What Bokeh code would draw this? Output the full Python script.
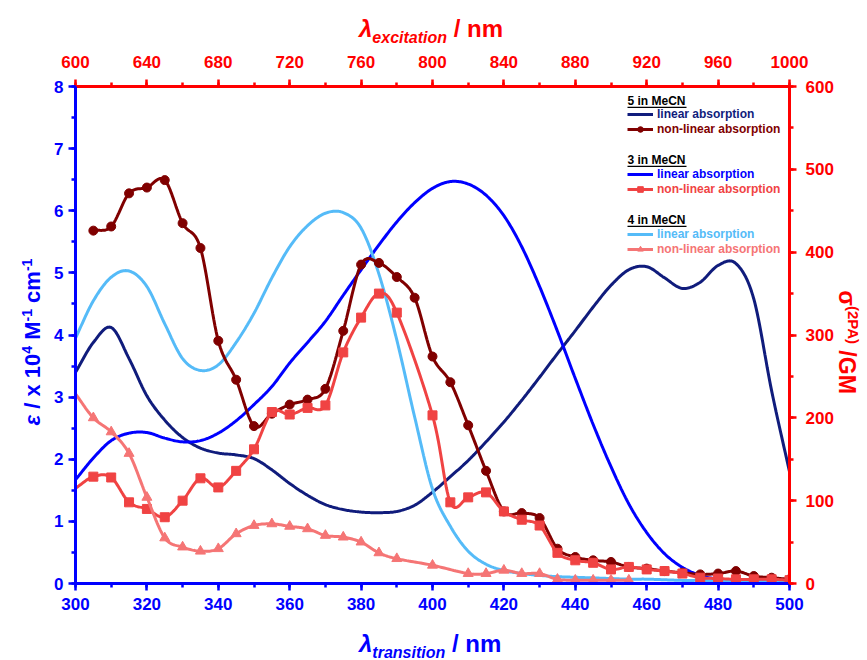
import numpy as np
from bokeh.plotting import figure
from bokeh.layouts import column, row
from bokeh.models import (Range1d, LinearAxis, SingleIntervalTicker, Label, Legend,
                          LegendItem, BoxAnnotation, Div)
from bokeh.embed import file_html
from bokeh.resources import INLINE

# ---------------- data ----------------
wl_lin = list(range(300, 505, 5))
eps_5 = [3.40, 3.88, 4.12, 3.62, 3.02, 2.63, 2.35, 2.18, 2.10, 2.07, 2.01, 1.83, 1.61, 1.42,
         1.27, 1.19, 1.15, 1.14, 1.16, 1.26, 1.47, 1.72, 1.98, 2.28, 2.60, 2.95, 3.32, 3.70,
         4.07, 4.45, 4.80, 5.05, 5.10, 4.92, 4.75, 4.85, 5.12, 5.15, 4.58, 3.10, 1.80]
eps_3 = [1.67, 2.02, 2.30, 2.42, 2.43, 2.34, 2.28, 2.30, 2.42, 2.62, 2.88, 3.17, 3.55, 3.88,
         4.22, 4.64, 5.05, 5.45, 5.82, 6.13, 6.36, 6.47, 6.43, 6.25, 5.92, 5.42, 4.78, 4.06,
         3.30, 2.56, 1.88, 1.28, 0.82, 0.48, 0.26, 0.13, 0.07, 0.04, 0.03, 0.02, 0.02]
eps_4 = [3.95, 4.55, 4.93, 5.03, 4.78, 4.18, 3.62, 3.43, 3.52, 3.88, 4.35, 4.92, 5.42, 5.76,
         5.96, 5.97, 5.72, 4.98, 3.92, 2.68, 1.52, 0.92, 0.52, 0.31, 0.21, 0.16, 0.13, 0.11,
         0.10, 0.09, 0.08, 0.07, 0.07, 0.06, 0.05, 0.05, 0.04, 0.04, 0.03, 0.03, 0.02]

wl_5 = list(range(305, 505, 5))
gm_5 = [426, 431, 471, 478, 487, 435, 405, 293, 246, 190, 205, 216, 222, 235, 305, 385, 387,
        370, 345, 274, 243, 191, 136, 87, 85, 79, 42, 32, 28, 26, 20, 18, 15, 13, 11, 12, 15,
        9, 7, 5]

wl_3 = list(range(300, 395, 5)) + list(range(400, 505, 5))
gm_3 = [115, 129, 128, 98, 90, 80, 100, 127, 116, 136, 162, 207, 204, 212, 215, 279, 321, 350,
        327, 203, 98, 104, 110, 87, 77, 70, 37, 28, 25, 17, 20, 17, 15, 12, 7, 6, 5, 5, 5, 4]

wl_4 = list(range(300, 395, 5)) + [400, 410, 415, 420, 425, 430, 435, 440, 445, 450, 455]
gm_4 = [229, 200, 183, 157, 104, 55, 44, 39, 42, 60, 70, 72, 69, 66, 58, 56, 50, 37, 30,
        22, 12, 12, 16, 12, 12, 5, 4, 4, 4, 4]

x_ticks_bottom = (300, 500, 20)
x_ticks_top = (600, 1000, 40)
y_left = (0, 8, 1)
y_right = (0, 600, 100)

# ---------------- style ----------------
C_NAVY = "#101c7c"
C_DRED = "#800000"
C_BLUE = "#0000ff"
C_RED = "#f04343"
C_LBLUE = "#55bbf8"
C_SALMON = "#f57575"
AX_BLUE = "#0000ff"
AX_RED = "#ff0000"
FS = "Liberation Sans"

W_LEFT, W_RIGHT, H_TOP, H_BOT = 40, 31, 44, 35
FIG_W, FIG_H = 867 - W_LEFT - W_RIGHT, 660 - H_TOP - H_BOT


def catmull(xs, ys, n=16):
    P = np.column_stack([xs, ys]).astype(float)
    E = np.vstack([2 * P[0] - P[1], P, 2 * P[-1] - P[-2]])
    t = np.linspace(0, 1, n, endpoint=False)[:, None]
    out = []
    for i in range(1, len(E) - 2):
        p0, p1, p2, p3 = E[i - 1], E[i], E[i + 1], E[i + 2]
        seg = 0.5 * (2 * p1 + (-p0 + p2) * t + (2 * p0 - 5 * p1 + 4 * p2 - p3) * t ** 2
                     + (-p0 + 3 * p1 - 3 * p2 + p3) * t ** 3)
        out.append(seg)
    out.append(P[-1:])
    a = np.vstack(out)
    return a[:, 0], a[:, 1]


p = figure(width=FIG_W, height=FIG_H, output_backend="svg", toolbar_location=None,
           x_range=Range1d(*x_ticks_bottom[:2]), y_range=Range1d(*y_left[:2]),
           min_border_left=75 - W_LEFT, min_border_right=(867 - W_RIGHT) - 789,
           min_border_top=86 - H_TOP, min_border_bottom=(660 - H_BOT) - 583, margin=0)
p.extra_x_ranges = {"exc": Range1d(*x_ticks_top[:2])}
p.extra_y_ranges = {"gm": Range1d(*y_right[:2])}
p.xgrid.visible = False
p.ygrid.visible = False
p.outline_line_color = None
p.background_fill_color = "white"
p.border_fill_color = "white"


def style_axis(ax, color, interval, standoff):
    ax.ticker = SingleIntervalTicker(interval=interval, num_minor_ticks=2)
    ax.axis_line_color = color
    ax.axis_line_width = 3
    ax.major_tick_line_color = color
    ax.major_tick_line_width = 2.5
    ax.major_tick_out = 7
    ax.major_tick_in = 0
    ax.minor_tick_line_color = color
    ax.minor_tick_line_width = 2.5
    ax.minor_tick_out = 4
    ax.minor_tick_in = 0
    ax.major_label_text_color = color
    ax.major_label_text_font = FS
    ax.major_label_text_font_style = "bold"
    ax.major_label_text_font_size = "17px"
    ax.major_label_standoff = standoff
    ax.axis_label = None


style_axis(p.xaxis[0], AX_BLUE, x_ticks_bottom[2], 7)
style_axis(p.yaxis[0], AX_BLUE, y_left[2], 5)
top = LinearAxis(x_range_name="exc")
style_axis(top, AX_RED, x_ticks_top[2], 12)
p.add_layout(top, "above")
right = LinearAxis(y_range_name="gm")
style_axis(right, AX_RED, y_right[2], 9)
p.add_layout(right, "right")

# ---------------- linear absorption ----------------
lw = 3
xs, ys = catmull(wl_lin, eps_5)
r5l = p.line(xs, ys, color=C_NAVY, line_width=lw)
xs, ys = catmull(wl_lin, eps_3)
r3l = p.line(xs, ys, color=C_BLUE, line_width=lw)
xs, ys = catmull(wl_lin, eps_4)
r4l = p.line(xs, ys, color=C_LBLUE, line_width=lw)

# ---------------- non-linear absorption ----------------
xs, ys = catmull(wl_5, gm_5)
r5n_l = p.line(xs, ys, color=C_DRED, line_width=lw, y_range_name="gm")
r5n_m = p.scatter(wl_5, gm_5, marker="circle", size=9, color=C_DRED, y_range_name="gm")

xs, ys = catmull(wl_3, gm_3)
r3n_l = p.line(xs, ys, color=C_RED, line_width=lw, y_range_name="gm")
r3n_m = p.scatter(wl_3[1:], gm_3[1:], marker="square", size=9, color=C_RED, y_range_name="gm")

xs, ys = catmull(wl_4, gm_4)
r4n_l = p.line(xs, ys, color=C_SALMON, line_width=lw, y_range_name="gm")
r4n_m = p.scatter(wl_4[1:], gm_4[1:], marker="triangle", size=10, color=C_SALMON,
                  y_range_name="gm")

# ---------------- legend ----------------
groups = [
    ("5 in MeCN", 100, [("linear absorption", [r5l], C_NAVY, 114.3),
                        ("non-linear absorption", [r5n_l, r5n_m], C_DRED, 129.0)]),
    ("3 in MeCN", 159, [("linear absorption", [r3l], C_BLUE, 174.3),
                        ("non-linear absorption", [r3n_l, r3n_m], C_RED, 189.3)]),
    ("4 in MeCN", 219, [("linear absorption", [r4l], C_LBLUE, 234.0),
                        ("non-linear absorption", [r4n_l, r4n_m], C_SALMON, 249.0)]),
]
FL, FB = 75, 583   # frame left / bottom in page px
for title, ty, items in groups:
    p.add_layout(Label(x=627 - FL, y=FB - ty, x_units="screen", y_units="screen",
                       text=title, text_font=FS, text_font_style="bold",
                       text_font_size="12px", text_color="black",
                       text_baseline="middle"))
    p.add_layout(BoxAnnotation(left=627 - FL, right=686 - FL, bottom=FB - (ty + 7.5),
                               top=FB - (ty + 6.3), left_units="screen", right_units="screen",
                               top_units="screen", bottom_units="screen",
                               fill_color="black", fill_alpha=1, line_color=None))
    for lab, rends, col, cy in items:
        lg = Legend(items=[LegendItem(label=lab, renderers=rends)],
                    location=(627 - FL, FB - (cy + 7)), padding=0, margin=0, spacing=0,
                    glyph_width=26, glyph_height=14, label_height=14, label_standoff=4,
                    label_text_font=FS, label_text_font_style="bold",
                    label_text_font_size="12px", label_text_color=col,
                    border_line_alpha=0, background_fill_alpha=0)
        p.add_layout(lg)

# ---------------- axis titles (HTML text around the figure) ----------------
BASE = "font-family:'Liberation Sans',Arial,sans-serif;font-weight:bold;white-space:nowrap;"

top_html = (f"<div style=\"position:relative;left:359px;top:14px;height:30px;line-height:30px;"
            f"{BASE}font-size:24px;color:{AX_RED};\"><i>λ</i><sub style=\"font-size:16px;"
            f"font-style:italic;\">excitation</sub> / nm</div>")
bot_html = (f"<div style=\"position:relative;left:359px;top:4px;height:30px;line-height:30px;"
            f"{BASE}font-size:24px;color:{AX_BLUE};\"><i>λ</i><sub style=\"font-size:16px;"
            f"font-style:italic;\">transition</sub> / nm</div>")
left_html = (f"<div style=\"position:relative;left:-73px;top:{342 - H_TOP - 13}px;width:200px;"
             f"height:26px;line-height:26px;text-align:center;transform:rotate(-90deg);"
             f"{BASE}font-size:22px;color:{AX_BLUE};\"><i>ε</i> / x 10<sup style=\""
             f"font-size:14px\">4</sup> M<sup style=\"font-size:14px\">-1</sup> cm"
             f"<sup style=\"font-size:14px\">-1</sup></div>")
rx = 853 - (867 - W_RIGHT)
right_html = (f"<div style=\"position:relative;left:{rx - 100}px;top:{342 - H_TOP - 13}px;"
              f"width:200px;height:26px;line-height:26px;text-align:center;"
              f"transform:rotate(90deg);{BASE}font-size:23px;color:{AX_RED};\">σ"
              f"<sup style=\"font-size:15px\">(2PA)</sup> /GM</div>")

div_kw = dict(margin=0, styles={"overflow": "visible"})
top_div = Div(text=top_html, width=867, height=H_TOP, **div_kw)
bot_div = Div(text=bot_html, width=867, height=H_BOT, **div_kw)
left_div = Div(text=left_html, width=W_LEFT, height=FIG_H, **div_kw)
right_div = Div(text=right_html, width=W_RIGHT, height=FIG_H, **div_kw)

layout = column(top_div, row(left_div, p, right_div, spacing=0, margin=0), bot_div,
                spacing=0, margin=0)

open("out.html", "w").write(file_html(layout, INLINE))
